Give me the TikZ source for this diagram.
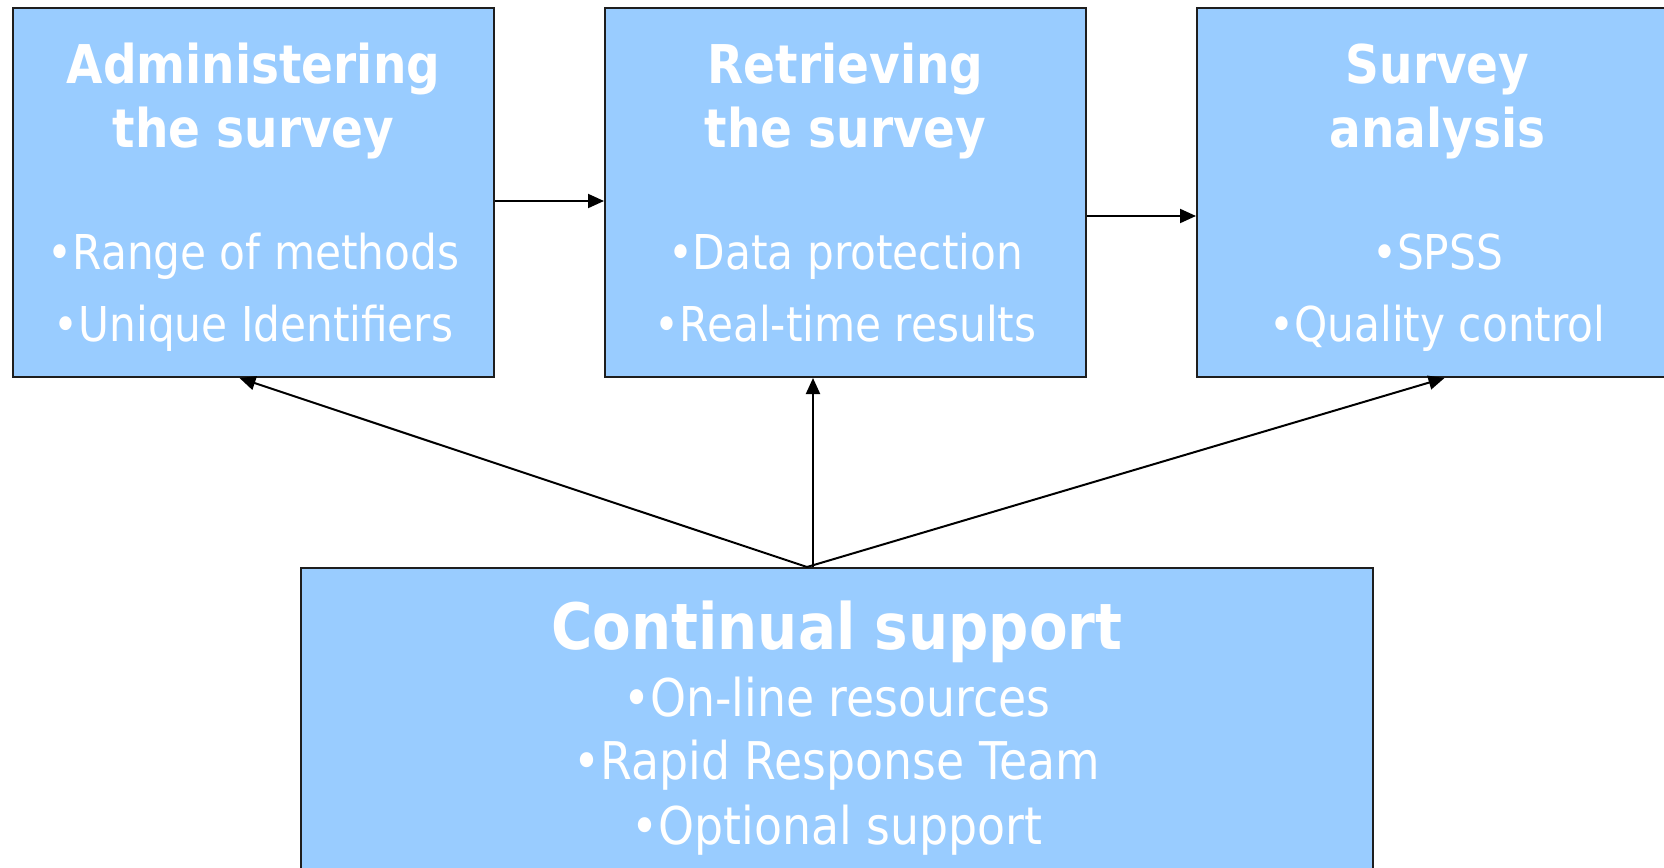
\documentclass[tikz,border=0pt]{standalone}
\usepackage{fontspec}
\setmainfont{DejaVu Sans}[FakeStretch=0.88]
\usepackage{tikz}
\usetikzlibrary{arrows.meta,positioning,calc}
\definecolor{stepblue}{RGB}{153,204,255}
\definecolor{stepedge}{RGB}{30,30,30}
\newcommand{\headf}{\fontsize{26.7pt}{32pt}\selectfont\bfseries}
\newcommand{\itemf}{\fontsize{24pt}{32pt}\selectfont\mdseries}
\newcommand{\supheadf}{\fontsize{32pt}{32.5pt}\selectfont\bfseries}
\newcommand{\supitemf}{\fontsize{26pt}{32.5pt}\selectfont\mdseries}
\newcommand{\capstrut}{\rule{0pt}{27.5pt}}
\newcommand{\descstrut}{\rule[-8pt]{0pt}{8pt}}

\begin{document}
\begin{tikzpicture}[node distance=0pt and 54.5pt,
  stepbox/.style={rectangle, draw=stepedge, line width=1pt, fill=stepblue, text=white,
    minimum width=240.5pt, minimum height=184.5pt, align=center, inner sep=0pt,
    font=\itemf},
  flow/.style={-{Triangle[length=8pt,width=7pt]}, line width=1pt}]

  \useasboundingbox (0,0) rectangle (832pt,-433.5pt);
  \clip (0,0) rectangle (832pt,-433.5pt);

  % Row of steps
  \node[stepbox, anchor=north west] (admin) at (6pt,-3.5pt)
    {\headf\capstrut Administering\\\headf the survey\\[29pt]
     \itemf •Range of methods\\[4pt]\itemf •Unique Identifiers\descstrut};
  \node[stepbox, right=of admin] (retr)
    {\headf\capstrut Retrieving\\\headf the survey\\[29pt]
     \itemf •Data protection\\[4pt]\itemf •Real-time results\descstrut};
  \node[stepbox, right=of retr] (anal)
    {\headf\capstrut Survey\\\headf analysis\\[29pt]
     \itemf •SPSS\\[4pt]\itemf •Quality control\descstrut};

  % Support box
  \node[stepbox, font=\supitemf, minimum width=536pt, minimum height=156.5pt,
    anchor=north] (cont) at (418.5pt,-283.5pt)
    {\supheadf\rule{0pt}{30pt}Continual support\\[1pt]
     \supitemf •On-line resources\\[-1pt]\supitemf •Rapid Response Team\\
     \supitemf •Optional support\descstrut};

  \coordinate (hub) at ([xshift=-15pt]cont.north);
  \coordinate (hubup) at ([xshift=-12pt]cont.north);

  % Flow between steps
  \draw[flow] ([yshift=-4.25pt]admin.east) -- ([yshift=-4.25pt]retr.west);
  \draw[flow] ([yshift=-11.75pt]retr.east) -- ([yshift=-11.75pt]anal.west);

  % Support links
  \draw[flow] (hub) -- ([xshift=-7pt]admin.south);
  \draw[flow] (hubup) -- (hubup |- retr.south);
  \draw[flow] (hub) -- ([xshift=3.5pt]anal.south);
\end{tikzpicture}
\end{document}
